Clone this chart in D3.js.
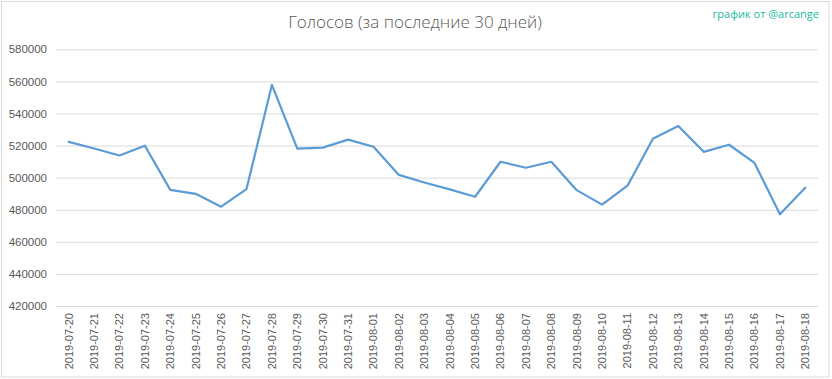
<!DOCTYPE html>
<html><head><meta charset="utf-8">
<script src="https://cdn.jsdelivr.net/npm/d3@7"></script>
<style>body{margin:0;background:#fff}svg{display:block}</style>
</head><body>
<svg id="c" width="832" height="379"></svg>
<script>
const titleText = "Голосов (за последние 30 дней)";
const creditText = "график от @arcange";
const dates = ["2019-07-20","2019-07-21","2019-07-22","2019-07-23","2019-07-24","2019-07-25","2019-07-26","2019-07-27","2019-07-28","2019-07-29","2019-07-30","2019-07-31","2019-08-01","2019-08-02","2019-08-03","2019-08-04","2019-08-05","2019-08-06","2019-08-07","2019-08-08","2019-08-09","2019-08-10","2019-08-11","2019-08-12","2019-08-13","2019-08-14","2019-08-15","2019-08-16","2019-08-17","2019-08-18"];
const votes = [522300,518200,513800,519900,492400,489900,481900,492900,557800,518100,518700,523700,519300,501700,497000,492700,488100,509900,506200,509900,492200,483200,495000,524300,532200,516100,520500,509200,477200,493700];
const yTicks = [420000,440000,460000,480000,500000,520000,540000,560000,580000];

const svg = d3.select("#c");
const pL = 56, pR = 818, pT = 49.3, pB = 306;
const x = d3.scaleBand().domain(dates).range([pL, pR]);
const y = d3.scaleLinear().domain([420000, 580000]).range([pB, pT]);

svg.append("rect").attr("x",1.5).attr("y",1.5).attr("width",827.5).attr("height",375.5)
  .attr("fill","#fff").attr("stroke","#d9d9d9").attr("stroke-width",1);

// gridlines
const yAxis = d3.axisLeft(y).tickValues(yTicks).tickFormat(d3.format("d")).tickSize(-(pR-pL)).tickPadding(9);
const gy = svg.append("g").attr("transform",`translate(${pL},0)`).call(yAxis);
gy.select(".domain").remove();
gy.selectAll(".tick line").attr("stroke","#d9d9d9").attr("stroke-width",1);
gy.selectAll(".tick text").attr("fill","#595959").attr("font-family","Liberation Sans, Arial, sans-serif").attr("font-size","11.5px");

// x axis
const xAxis = d3.axisBottom(x).tickSize(0).tickPadding(0);
const gx = svg.append("g").attr("transform",`translate(0,${pB})`).call(xAxis);
gx.select(".domain").attr("stroke","#d9d9d9");
gx.selectAll(".tick text")
  .attr("transform","rotate(-90)")
  .attr("text-anchor","end")
  .attr("x",-7).attr("y",0).attr("dy","0.35em")
  .attr("fill","#595959").attr("font-family","Liberation Sans, Arial, sans-serif").attr("font-size","11px");

// line
const line = d3.line().x((d,i)=>x(dates[i]) + x.bandwidth()/2).y(d=>y(d));
svg.append("path").datum(votes).attr("d",line).attr("fill","none")
  .attr("stroke","#5b9bd5").attr("stroke-width",2.2).attr("stroke-linejoin","round").attr("stroke-linecap","round");

svg.append("text").attr("x",415).attr("y",28).attr("text-anchor","middle")
  .attr("fill","#595959").attr("font-family","Open Sans, sans-serif").attr("font-size","17px").attr("font-weight",300)
  .text(titleText);
svg.append("text").attr("x",819).attr("y",18).attr("text-anchor","end")
  .attr("fill","#1abc9c").attr("font-family","Open Sans, sans-serif").attr("font-size","11px")
  .text(creditText);
</script>
</body></html>
